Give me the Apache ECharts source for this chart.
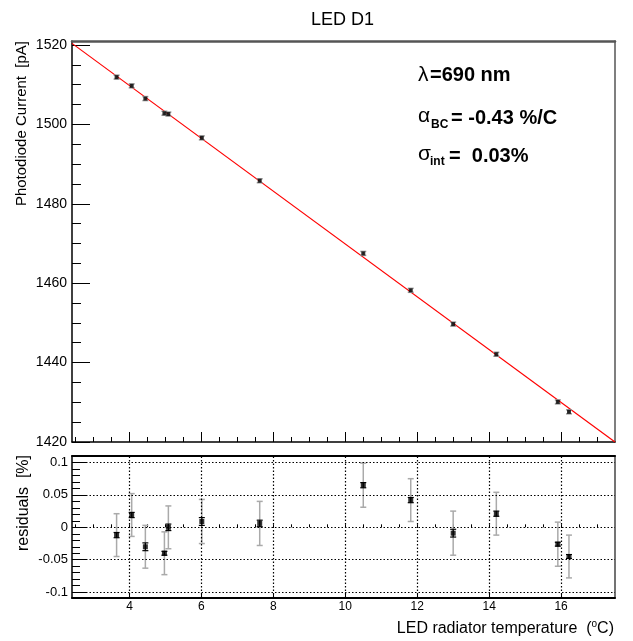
<!DOCTYPE html>
<html><head><meta charset="utf-8">
<script src="https://cdn.jsdelivr.net/npm/echarts@6/dist/echarts.min.js"></script>
<style>html,body{margin:0;padding:0;background:#fff}#c{width:633px;height:641px}</style>
</head><body><div id="c"></div>
<script>
// ---- data ----
const temperature = [3.64, 4.06, 4.44, 4.97, 5.08, 6.01, 7.62, 10.5, 11.82, 13.0, 14.2, 15.91, 16.22];
const current = [1511.9, 1509.7, 1506.5, 1502.8, 1502.6, 1496.6, 1485.8, 1467.5, 1458.2, 1449.7, 1442.1, 1430.1, 1427.6];
const currentErr = [0.5, 0.5, 0.5, 0.5, 0.5, 0.5, 0.5, 0.5, 0.5, 0.5, 0.5, 0.5, 0.5];
const residual = [-0.012, 0.019, -0.030, -0.040, 0.000, 0.009, 0.006, 0.065, 0.042, -0.009, 0.021, -0.026, -0.045];
const residualErrSys = [0.033, 0.033, 0.033, 0.033, 0.033, 0.034, 0.034, 0.034, 0.033, 0.034, 0.033, 0.034, 0.033];
const residualErrStat = [0.004, 0.004, 0.006, 0.003, 0.005, 0.006, 0.005, 0.004, 0.004, 0.006, 0.004, 0.003, 0.003];
const fitLine = [[2.4, 1520.4], [17.5, 1420.0]];
const xMajorTicks = [4, 6, 8, 10, 12, 14, 16];
const topYTicks = [1420, 1440, 1460, 1480, 1500, 1520];
const resYTicks = [-0.1, -0.05, 0, 0.05, 0.1];

function range(a, b, s) { const r = []; for (let v = a; v <= b + 1e-9; v += s) r.push(Math.round(v * 1000) / 1000); return r; }
const xMinorTicks = range(2.5, 17.0, 0.5);
const topYMinor = range(1420, 1520, 5);
const resYMinor = range(-0.1, 0.1, 0.01);

const FONT = 'Liberation Sans, Arial, sans-serif';
const plain = v => String(v);

function errRender(color, capHalf, lw) {
  return function (params, api) {
    const x = api.value(0), y = api.value(1), e = api.value(2);
    const t = api.coord([x, y + e]), b = api.coord([x, y - e]);
    const st = { stroke: color, lineWidth: lw };
    return { type: 'group', children: [
      { type: 'line', shape: { x1: t[0], y1: t[1], x2: b[0], y2: b[1] }, style: st },
      { type: 'line', shape: { x1: t[0] - capHalf, y1: t[1], x2: t[0] + capHalf, y2: t[1] }, style: st },
      { type: 'line', shape: { x1: b[0] - capHalf, y1: b[1], x2: b[0] + capHalf, y2: b[1] }, style: st }
    ]};
  };
}

const topData = temperature.map((t, i) => [t, current[i], currentErr[i]]);
const resSys = temperature.map((t, i) => [t, residual[i], residualErrSys[i]]);
const resStat = temperature.map((t, i) => [t, residual[i], residualErrStat[i]]);

const XMIN = 2.4, XMAX = 17.5;
const hidden = { show: false };

const option = {
  animation: false,
  backgroundColor: '#fff',
  grid: [
    { left: 72, top: 41, right: 18, height: 401, show: false },
    { left: 72, top: 456, right: 18, height: 142, show: false }
  ],
  xAxis: [
    { type: 'value', gridIndex: 0, min: XMIN, max: XMAX, position: 'bottom',
      axisLine: { show: true, onZero: false, lineStyle: { color: '#000', width: 1.5 } },
      axisTick: { show: true, inside: true, length: 10, customValues: xMajorTicks, lineStyle: { color: '#000', width: 1 } },
      axisLabel: { show: false }, splitLine: hidden },
    { type: 'value', gridIndex: 0, min: XMIN, max: XMAX, position: 'bottom',
      axisLine: hidden,
      axisTick: { show: true, inside: true, length: 5, customValues: xMinorTicks, lineStyle: { color: '#000', width: 1 } },
      axisLabel: { show: false }, splitLine: hidden },
    { type: 'value', gridIndex: 0, min: XMIN, max: XMAX, position: 'top',
      axisLine: { show: true, onZero: false, lineStyle: { color: '#555', width: 2.5 } },
      axisTick: hidden, axisLabel: hidden, splitLine: hidden },
    { type: 'value', gridIndex: 1, min: XMIN, max: XMAX, position: 'bottom',
      axisLine: { show: true, onZero: false, lineStyle: { color: '#000', width: 2 } },
      axisTick: { show: true, inside: true, length: 5, customValues: xMajorTicks, lineStyle: { color: '#000', width: 1 } },
      axisLabel: { show: true, customValues: xMajorTicks, formatter: plain, margin: 3, color: '#000', fontSize: 12, fontFamily: FONT },
      splitLine: hidden },
    { type: 'value', gridIndex: 1, min: XMIN, max: XMAX, position: 'bottom',
      axisLine: hidden,
      axisTick: { show: true, inside: true, length: 3, customValues: xMinorTicks, lineStyle: { color: '#000', width: 1 } },
      axisLabel: hidden, splitLine: hidden },
    { type: 'value', gridIndex: 1, min: XMIN, max: XMAX, position: 'top',
      axisLine: { show: true, onZero: false, lineStyle: { color: '#000', width: 2 } },
      axisTick: hidden, axisLabel: hidden, splitLine: hidden }
  ],
  yAxis: [
    { type: 'value', gridIndex: 0, min: 1420, max: 1521, position: 'left',
      axisLine: { show: true, onZero: false, lineStyle: { color: '#000', width: 1.5 } },
      axisTick: { show: true, inside: true, length: 18, customValues: topYTicks, lineStyle: { color: '#000', width: 1 } },
      axisLabel: { show: true, customValues: topYTicks, formatter: plain, margin: 5, color: '#000', fontSize: 14, fontFamily: FONT },
      splitLine: hidden },
    { type: 'value', gridIndex: 0, min: 1420, max: 1521, position: 'left',
      axisLine: hidden,
      axisTick: { show: true, inside: true, length: 9, customValues: topYMinor, lineStyle: { color: '#000', width: 1 } },
      axisLabel: hidden, splitLine: hidden },
    { type: 'value', gridIndex: 0, min: 1420, max: 1521, position: 'right',
      axisLine: { show: true, onZero: false, lineStyle: { color: '#555', width: 1.5 } },
      axisTick: hidden, axisLabel: hidden, splitLine: hidden },
    { type: 'value', gridIndex: 1, min: -0.109, max: 0.11, position: 'left',
      axisLine: { show: true, onZero: false, lineStyle: { color: '#000', width: 1.5 } },
      axisTick: { show: true, inside: true, length: 15, customValues: resYTicks, lineStyle: { color: '#000', width: 1 } },
      axisLabel: { show: true, customValues: resYTicks, formatter: plain, margin: 4, color: '#000', fontSize: 13, fontFamily: FONT },
      splitLine: hidden },
    { type: 'value', gridIndex: 1, min: -0.109, max: 0.11, position: 'left',
      axisLine: hidden,
      axisTick: { show: true, inside: true, length: 8, customValues: resYMinor, lineStyle: { color: '#000', width: 1 } },
      axisLabel: hidden, splitLine: hidden },
    { type: 'value', gridIndex: 1, min: -0.109, max: 0.11, position: 'right',
      axisLine: { show: true, onZero: false, lineStyle: { color: '#444', width: 1.5 } },
      axisTick: hidden, axisLabel: hidden, splitLine: hidden }
  ],
  series: [
    { type: 'line', xAxisIndex: 0, yAxisIndex: 0, data: fitLine, symbol: 'none',
      lineStyle: { color: '#ff0000', width: 1.2 }, z: 3 },
    { type: 'custom', xAxisIndex: 0, yAxisIndex: 0, data: topData,
      renderItem: errRender('#999', 3, 1.5), z: 4 },
    { type: 'scatter', xAxisIndex: 0, yAxisIndex: 0, data: topData.map(d => [d[0], d[1]]),
      symbol: 'rect', symbolSize: 4, itemStyle: { color: '#000' }, z: 5 },
    { type: 'line', xAxisIndex: 3, yAxisIndex: 3, data: [], symbol: 'none',
      markLine: { silent: true, symbol: 'none', label: { show: false },
        lineStyle: { color: '#000', width: 1.2, type: [1.5, 2] },
        data: xMajorTicks.map(v => ({ xAxis: v })).concat(resYTicks.map(v => ({ yAxis: v }))) } },
    { type: 'custom', xAxisIndex: 3, yAxisIndex: 3, data: resSys,
      renderItem: errRender('#aaaaaa', 3, 1.5), z: 3 },
    { type: 'custom', xAxisIndex: 3, yAxisIndex: 3, data: resStat,
      renderItem: errRender('#000', 3, 1.2), z: 4 },
    { type: 'scatter', xAxisIndex: 3, yAxisIndex: 3, data: resStat.map(d => [d[0], d[1]]),
      symbol: 'rect', symbolSize: 5, itemStyle: { color: '#000' }, z: 5 }
  ],
  graphic: [
    { type: 'text', left: 311, top: 11, style: { text: 'LED D1', font: '18px ' + FONT, fill: '#000' } },
    { type: 'text', x: 22, y: 41, rotation: Math.PI / 2,
      style: { text: 'Photodiode Current  [pA]', font: '15px ' + FONT, fill: '#000', align: 'right', verticalAlign: 'middle' } },
    { type: 'text', x: 24, y: 455, rotation: Math.PI / 2,
      style: { text: 'residuals  [%]', font: '16px ' + FONT, fill: '#000', align: 'right', verticalAlign: 'middle' } },
    { type: 'text', x: 614, y: 628,
      style: { text: '{t|LED radiator temperature  (}{s|o}{t|C)}', align: 'right', verticalAlign: 'middle',
        rich: { t: { font: '16px ' + FONT, fill: '#000', lineHeight: 18, verticalAlign: 'bottom' },
                s: { font: '10px ' + FONT, fill: '#000', lineHeight: 18, verticalAlign: 'top' } } } },
    { type: 'text', x: 418, y: 75, style: { text: 'λ', font: '21px ' + FONT, fill: '#000', verticalAlign: 'middle' } },
    { type: 'text', x: 430, y: 75, style: { text: '=690 nm', font: 'bold 20px ' + FONT, fill: '#000', verticalAlign: 'middle' } },
    { type: 'text', x: 418, y: 116, style: { text: 'α', font: '21px ' + FONT, fill: '#000', verticalAlign: 'middle' } },
    { type: 'text', x: 431, y: 125, style: { text: 'BC', font: 'bold 12px ' + FONT, fill: '#000', verticalAlign: 'middle' } },
    { type: 'text', x: 451, y: 118, style: { text: '= -0.43 %/C', font: 'bold 20px ' + FONT, fill: '#000', verticalAlign: 'middle' } },
    { type: 'text', x: 418, y: 154, style: { text: 'σ', font: '21px ' + FONT, fill: '#000', verticalAlign: 'middle' } },
    { type: 'text', x: 430, y: 162, style: { text: 'int', font: 'bold 12px ' + FONT, fill: '#000', verticalAlign: 'middle' } },
    { type: 'text', x: 449, y: 156, style: { text: '=  0.03%', font: 'bold 20px ' + FONT, fill: '#000', verticalAlign: 'middle' } }
  ]
};

const chart = echarts.init(document.getElementById('c'), null, { renderer: 'canvas' });
chart.setOption(option);
</script>
</body></html>
